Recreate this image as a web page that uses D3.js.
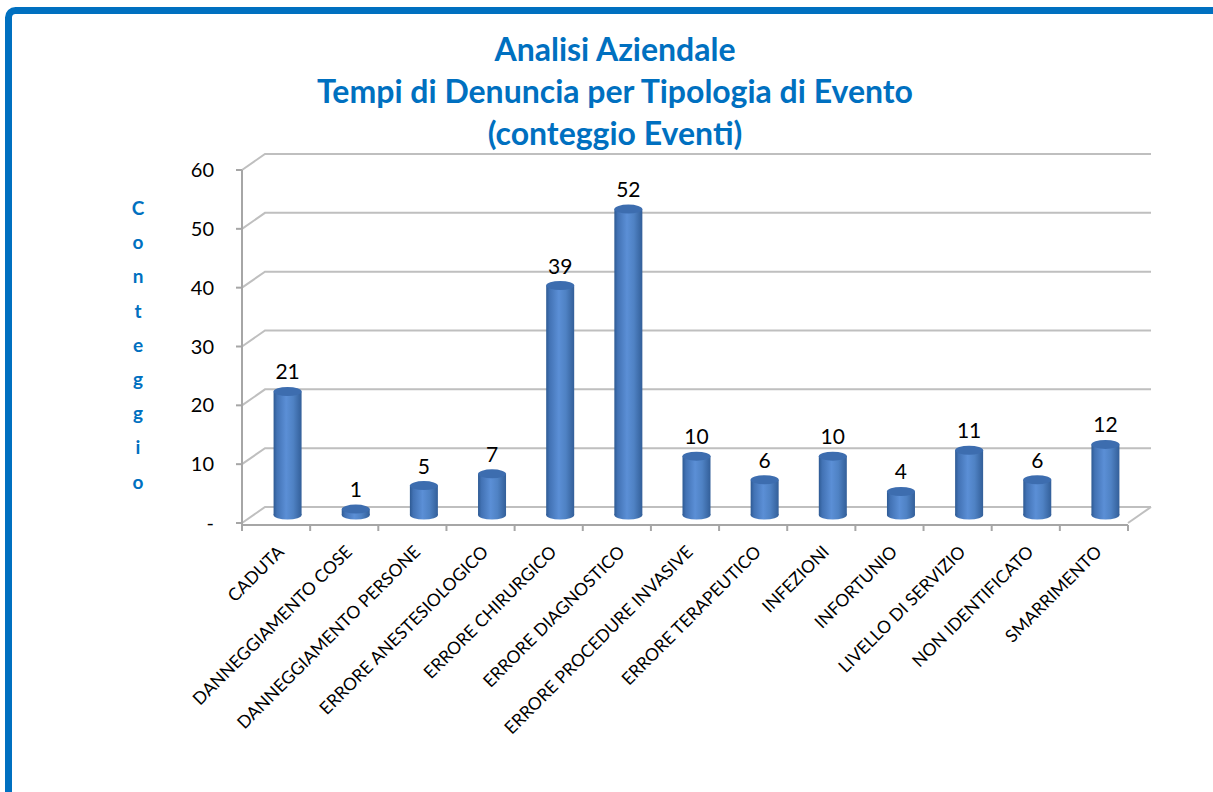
<!DOCTYPE html>
<meta charset="utf-8">
<style>
body { margin: 0; background: #fff; }
svg { display: block; }
.title text { fill: #0070c0; font: bold 32px Lato, sans-serif; text-anchor: middle; }
.ytitle text { fill: #0070c0; font: bold 19px Lato, sans-serif; text-anchor: middle; }
.tick-label { fill: #000; font: 20px Lato, sans-serif; text-anchor: end; }
.value-label { fill: #000; font: 21px Lato, sans-serif; text-anchor: middle; }
.cat-label { fill: #000; font: 17.5px Lato, sans-serif; text-anchor: end; }
.grid { stroke: #bfbfbf; stroke-width: 2; fill: none; }
.axis { stroke: #a6a6a6; stroke-width: 2; fill: none; }
</style>
<svg id="chart" width="1213" height="792"></svg>
<script src="https://cdn.jsdelivr.net/npm/d3@7"></script>
<script>

var categories = ["CADUTA", "DANNEGGIAMENTO COSE", "DANNEGGIAMENTO PERSONE",
  "ERRORE ANESTESIOLOGICO", "ERRORE CHIRURGICO", "ERRORE DIAGNOSTICO",
  "ERRORE PROCEDURE INVASIVE", "ERRORE TERAPEUTICO", "INFEZIONI", "INFORTUNIO",
  "LIVELLO DI SERVIZIO", "NON IDENTIFICATO", "SMARRIMENTO"]
var counts = [21, 1, 5, 7, 39, 52, 10, 6, 10, 4, 11, 6, 12]
var yTicks = [0, 10, 20, 30, 40, 50, 60]
var yTickLabels = ["-", "10", "20", "30", "40", "50", "60"]
var titleLines = ["Analisi Aziendale", "Tempi di Denuncia per Tipologia di Evento", "(conteggio Eventi)"]
var yTitle = "Conteggio"

var svg = d3.select("#chart")

// blue frame, cut off at the right and bottom like the original screenshot
svg.append("rect")
  .attr("x", 8.5).attr("y", 10.5)
  .attr("width", 1400).attr("height", 1000)
  .attr("rx", 7)
  .attr("fill", "none")
  .attr("stroke", "#0070c0")
  .attr("stroke-width", 7)

// 3d depth of the plot
var dx = 23, dy = 16

var x = d3.scaleBand().domain(categories).range([242, 1128])
var y = d3.scaleLinear().domain([0, 60]).range([523, 170])

// titles
svg.append("g").attr("class", "title")
  .selectAll("text").data(titleLines).enter().append("text")
  .attr("x", 615)
  .attr("y", function(d, i) { return 61 + i * 42 })
  .text(function(d) { return d })

svg.append("g").attr("class", "ytitle")
  .selectAll("text").data(yTitle.split("")).enter().append("text")
  .attr("x", 138)
  .attr("y", function(d, i) { return 215 + i * 34.2 })
  .text(function(d) { return d })

// gridlines: diagonal on the side wall, then across the back wall
var grid = svg.append("g")
grid.selectAll("path").data(yTicks).enter().append("path")
  .attr("class", "grid")
  .attr("d", function(d) {
    var yy = y(d)
    return "M" + x.range()[0] + "," + yy + "L" + (x.range()[0] + dx) + "," + (yy - dy) +
      "L" + (x.range()[1] + dx) + "," + (yy - dy)
  })

// floor right edge
svg.append("path").attr("class", "grid")
  .attr("d", "M" + x.range()[1] + "," + y(0) + "L" + (x.range()[1] + dx) + "," + (y(0) - dy))

// y axis
var yAxis = svg.append("g").attr("transform", "translate(242,0)")
yAxis.append("line").attr("class", "axis")
  .attr("x1", 0).attr("x2", 0).attr("y1", y(60)).attr("y2", y(0) + 2)
yAxis.selectAll(".tk").data(yTicks).enter().append("line")
  .attr("class", "axis")
  .attr("x1", -6).attr("x2", 0)
  .attr("y1", function(d) { return y(d) }).attr("y2", function(d) { return y(d) })
yAxis.selectAll("text").data(yTicks).enter().append("text")
  .attr("class", "tick-label")
  .attr("x", -28)
  .attr("y", function(d) { return y(d) + 7 })
  .text(function(d, i) { return yTickLabels[i] })

// x axis
var xAxis = svg.append("g")
xAxis.append("line").attr("class", "axis")
  .attr("x1", x.range()[0]).attr("x2", x.range()[1])
  .attr("y1", y(0) + 2).attr("y2", y(0) + 2)
var bounds = categories.map(function(c) { return x(c) }).concat([x.range()[1]])
xAxis.selectAll(".tk").data(bounds).enter().append("line")
  .attr("class", "axis")
  .attr("x1", function(d) { return d }).attr("x2", function(d) { return d })
  .attr("y1", y(0) + 2).attr("y2", y(0) + 8)

// cylinder gradient
var grad = svg.append("defs").append("linearGradient")
  .attr("id", "cyl").attr("x1", "0%").attr("x2", "100%")
grad.selectAll("stop").data([
  [0, "#2e5a93"], [0.12, "#4272b4"], [0.45, "#5b8fd6"], [0.7, "#4f82c4"], [1, "#335f99"]
]).enter().append("stop")
  .attr("offset", function(d) { return d[0] })
  .attr("stop-color", function(d) { return d[1] })

var barW = 28, ry = 4.5
var bar = svg.selectAll(".bar").data(counts).enter().append("g")
  .attr("class", "bar")
  .attr("transform", function(d, i) {
    return "translate(" + (x(categories[i]) + x.bandwidth() / 2 + dx / 2) + "," + (-dy / 2) + ")"
  })

bar.append("ellipse")
  .attr("cx", 0).attr("cy", y(0)).attr("rx", barW / 2).attr("ry", ry)
  .attr("fill", "url(#cyl)")
bar.append("rect")
  .attr("x", -barW / 2).attr("width", barW)
  .attr("y", function(d) { return y(d) })
  .attr("height", function(d) { return y(0) - y(d) })
  .attr("fill", "url(#cyl)")
bar.append("ellipse")
  .attr("cx", 0).attr("cy", function(d) { return y(d) })
  .attr("rx", barW / 2).attr("ry", ry)
  .attr("fill", "#3d6daf")

bar.append("text")
  .attr("class", "value-label")
  .attr("y", function(d) { return y(d) - 12 })
  .text(function(d) { return d })

// category labels at 45 degrees
svg.append("g").selectAll("text").data(categories).enter().append("text")
  .attr("class", "cat-label")
  .attr("transform", function(d) {
    return "translate(" + (x(d) + x.bandwidth() / 2 + 9) + ",553) rotate(-45)"
  })
  .text(function(d) { return d })

</script>
